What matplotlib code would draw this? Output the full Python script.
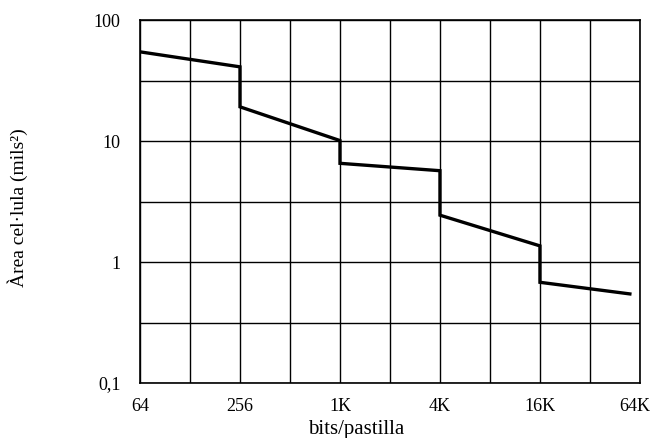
import matplotlib
matplotlib.use("Agg")
import matplotlib.pyplot as plt
from matplotlib.ticker import FixedLocator, NullFormatter
from matplotlib.transforms import ScaledTranslation

plt.rcParams['font.family'] = ['Liberation Serif', 'DejaVu Serif']

# bits per chip vs cell area
bits = [64, 256, 256, 1024, 1024, 4096, 4096, 16384, 16384, 57000]
area = [54.7, 41.1, 19.2, 10.1, 6.55, 5.69, 2.44, 1.36, 0.68, 0.545]

x_ticks = [64, 256, 1024, 4096, 16384, 65536]
x_labels = ['64', '256', '1K', '4K', '16K', '64K']
x_minor = [128, 512, 2048, 8192, 32768]
y_ticks = [0.1, 1, 10, 100]
y_labels = ['0,1', '1', '10', '100']
y_minor = [0.316, 3.16, 31.6]

fig = plt.figure(figsize=(6.53, 4.38), dpi=100)
ax = fig.add_axes([0.2144, 0.1256, 0.7656, 0.8284])

ax.plot(bits, area, color='black', lw=2.4, solid_joinstyle='miter')

ax.set_xscale('log', base=2)
ax.set_yscale('log')
ax.set_xlim(64, 65536)
ax.set_ylim(0.1, 100)

ax.xaxis.set_major_locator(FixedLocator(x_ticks))
ax.set_xticklabels(x_labels)
ax.xaxis.set_minor_locator(FixedLocator(x_minor))
ax.xaxis.set_minor_formatter(NullFormatter())
ax.yaxis.set_major_locator(FixedLocator(y_ticks))
ax.set_yticklabels(y_labels)
ax.yaxis.set_minor_locator(FixedLocator(y_minor))
ax.yaxis.set_minor_formatter(NullFormatter())

ax.grid(True, which='both', color='black', lw=1.0)
ax.tick_params(which='both', length=0, labelsize=13)
ax.tick_params(axis='x', pad=11)
ax.tick_params(axis='y', pad=14)
for s in ax.spines.values():
    s.set_linewidth(1.2)

# last x label sits at the right edge, nudge it in a bit
last = ax.get_xticklabels()[-1]
last.set_transform(last.get_transform() + ScaledTranslation(-4/72, 0, fig.dpi_scale_trans))

ax.set_xlabel('bits/pastilla', fontsize=15)
ax.set_ylabel('Àrea cel·lula (mils²)', fontsize=14)
ax.xaxis.set_label_coords(0.432, -0.103)
ax.yaxis.set_label_coords(-0.224, 0.483)

plt.savefig('out.png', dpi=100)
plt.close('all')
